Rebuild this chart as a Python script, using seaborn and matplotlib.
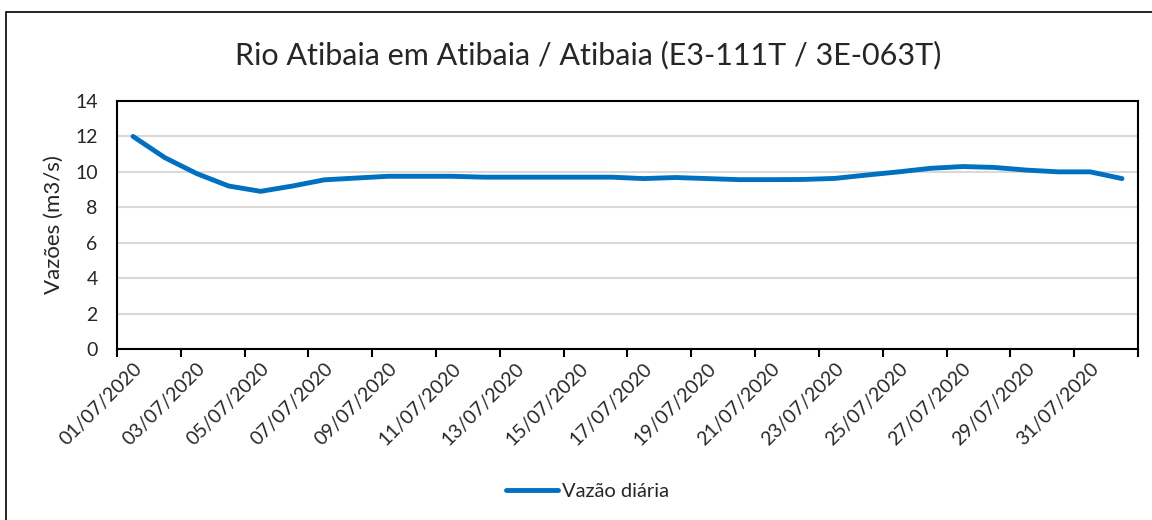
import numpy as np
import pandas as pd
import seaborn as sns
import matplotlib.pyplot as plt
from matplotlib.patches import Rectangle

# vazões diárias (m3/s), 01/07/2020 a 01/08/2020
datas = pd.date_range("2020-07-01", periods=32, freq="D")
vazao = [12.0, 10.8, 9.9, 9.2, 8.9, 9.2, 9.55, 9.65, 9.75, 9.75, 9.75, 9.7,
         9.7, 9.7, 9.7, 9.7, 9.62, 9.68, 9.62, 9.56, 9.56, 9.57, 9.63, 9.82,
         10.0, 10.2, 10.3, 10.25, 10.1, 10.0, 10.0, 9.62]
titulo = "Rio Atibaia em Atibaia / Atibaia (E3-111T / 3E-063T)"
yticks = [0, 2, 4, 6, 8, 10, 12, 14]

df = pd.DataFrame({"dia": np.arange(len(datas)), "vazao": vazao})
rotulos = [d.strftime("%d/%m/%Y") for d in datas]

sns.set_theme(style="white")
plt.rcParams["font.family"] = ["Lato", "DejaVu Sans"]

fig = plt.figure(figsize=(11.52, 5.2), dpi=100)
ax = fig.add_axes([0.1016, 0.3288, 0.8862, 0.477])

sns.lineplot(data=df, x="dia", y="vazao", ax=ax, color="#0070C0",
             linewidth=3.5, label="Vazão diária", solid_capstyle="round")

ax.set_xlim(-0.5, len(datas) - 0.5)
ax.set_ylim(0, 14)
ax.set_yticks(yticks)
ax.yaxis.grid(True, color="#D9D9D9", linewidth=1.5)
ax.set_axisbelow(True)

# marcas entre as categorias, rótulos no centro
ax.set_xticks(np.arange(-0.5, len(datas), 2))
ax.set_xticklabels([])
ax.set_xticks(np.arange(0, len(datas), 2), minor=True)
ax.set_xticklabels(rotulos[::2], minor=True, rotation=45, ha="right",
                   rotation_mode="anchor", fontsize=14)
ax.tick_params(axis="x", which="major", length=6, width=1.5, color="black",
               direction="out", bottom=True)
ax.tick_params(axis="x", which="minor", length=0, pad=8)
ax.tick_params(axis="y", labelsize=14, length=0, pad=14)

for s in ax.spines.values():
    s.set_color("black")
    s.set_linewidth(1.5)

ax.set_xlabel("")
ax.set_ylabel("Vazões (m3/s)", fontsize=16, labelpad=8)

fig.text(0.511, 0.894, titulo, ha="center", va="center", fontsize=22)

leg = ax.legend(loc="center", bbox_to_anchor=(0.51, 0.054),
                bbox_transform=fig.transFigure, frameon=False, fontsize=14.5,
                handlelength=2.6, handletextpad=0.2)

fig.patches.append(Rectangle((0.005, -0.01), 1.0, 0.987, transform=fig.transFigure,
                             fill=False, edgecolor="black", linewidth=1.2))

fig.savefig("out.png", dpi=100)
